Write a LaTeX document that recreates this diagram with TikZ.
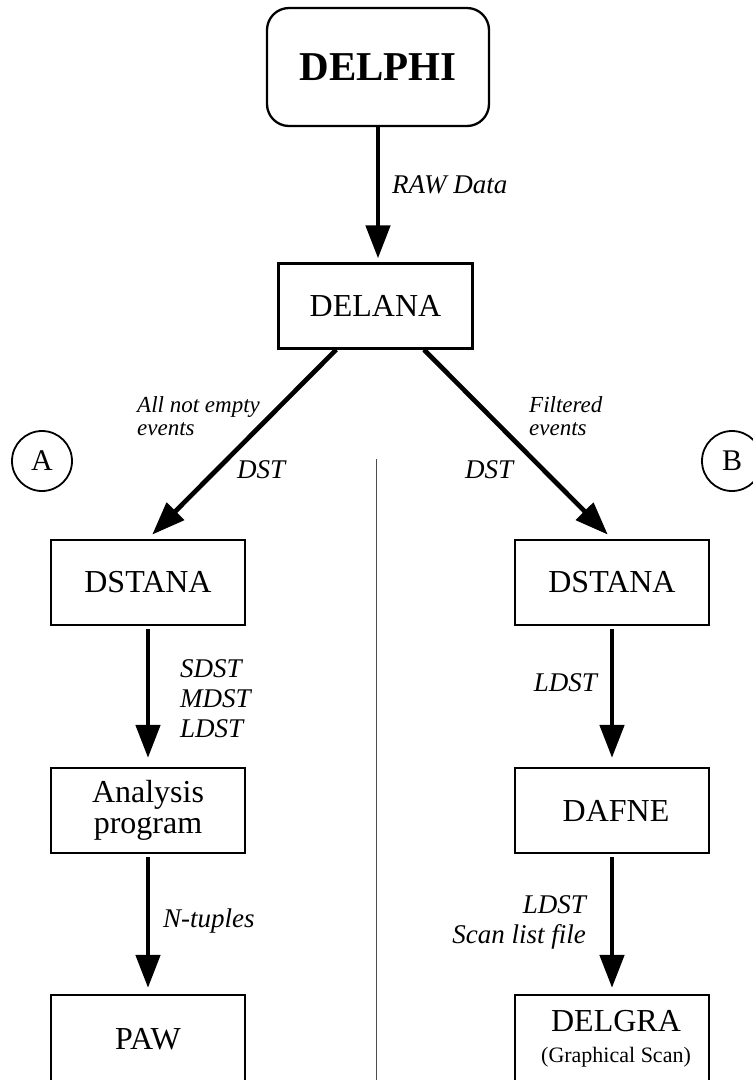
\documentclass[tikz,border=0pt]{standalone}
\usepackage{fontspec}
\setmainfont{Liberation Serif}
\usetikzlibrary{arrows.meta}

\tikzset{
  prog/.style={draw, line width=2.3pt, minimum width=194pt, minimum height=85pt, inner sep=0pt, align=center, font=\fontsize{32}{31}\selectfont},
  flow/.style={line width=4.7pt, -{Triangle[length=33pt,width=24pt]}},
  datalbl/.style={inner sep=0pt, font=\fontsize{27}{30}\selectfont\itshape},
  notelbl/.style={inner sep=0pt, align=left, font=\fontsize{23}{23}\selectfont\itshape},
  branch/.style={draw, circle, line width=1.8pt, minimum size=60pt, inner sep=0pt, font=\fontsize{30}{30}\selectfont}
}

\begin{document}
  \begin{tikzpicture}[x=1pt, y=1pt]
    \useasboundingbox[fill=white] (0,0) rectangle (753,-1080);
    \node[prog, rounded corners=22pt, minimum width=222pt, minimum height=118pt, font=\fontsize{41}{41}\selectfont\bfseries] (delphi) at (378,-67) {DELPHI};
    \node[prog] (delana) at (375.5,-306) {DELANA};
    \node[prog] (dstanaA) at (148,-582.5) {DSTANA};
    \node[prog] (analysis) at (148,-810.5) {Analysis\\program};
    \node[prog, minimum height=88pt] (paw) at (148,-1039) {PAW};
    \node[prog] (dstanaB) at (612,-582.5) {DSTANA};
    \node[prog] (dafne) at (612,-810.5) {\hspace*{8pt}DAFNE};
    \node[prog, minimum height=88pt] (delgra) at (612,-1039) {\hspace*{8pt}DELGRA\\\hspace*{8pt}{\fontsize{22}{24}\selectfont(Graphical Scan)}};

    \node[branch] (brA) at (42,-461) {A};
    \node[branch] (brB) at (732,-461) {B};

    \draw[flow, shorten >=4pt] (delphi.south) -- (delphi.south |- delana.north);
    \draw[flow, shorten >=6pt] (delana.228) -- (dstanaA.north);
    \draw[flow, shorten >=6pt] (delana.318) -- (dstanaB.north);
    \draw[flow, shorten <=3pt, shorten >=9pt] (dstanaA) -- (analysis);
    \draw[flow, shorten <=3pt, shorten >=6pt] (analysis) -- (paw);
    \draw[flow, shorten <=3pt, shorten >=9pt] (dstanaB) -- (dafne);
    \draw[flow, shorten <=3pt, shorten >=6pt] (dafne) -- (delgra);

    \coordinate (splittop) at (376,-459);
    \coordinate (splitbot) at (376,-1080);
    \draw[line width=1pt, black!70] (splittop) -- (splitbot);

    \node[datalbl, anchor=base west] (rawlbl) at (392,-193) {RAW Data};
    \node[notelbl, anchor=base west] (allnote) at (137,-435) {All not empty\\events};
    \node[datalbl, anchor=base west] (dstA) at (237,-478) {DST};
    \node[notelbl, anchor=base west] (filtnote) at (529,-435) {Filtered\\events};
    \node[datalbl, anchor=base west] (dstB) at (465,-478) {DST};
    \node[datalbl, anchor=base west, align=left] (dstlist) at (180,-737) {SDST\\MDST\\LDST};
    \node[datalbl, anchor=base west] (ntup) at (163,-927) {N-tuples};
    \node[datalbl, anchor=base east] (ldstB) at (597,-691) {LDST};
    \node[datalbl, anchor=base east, align=right] (scanlbl) at (586,-943) {LDST\\Scan list file};
  \end{tikzpicture}
\end{document}
